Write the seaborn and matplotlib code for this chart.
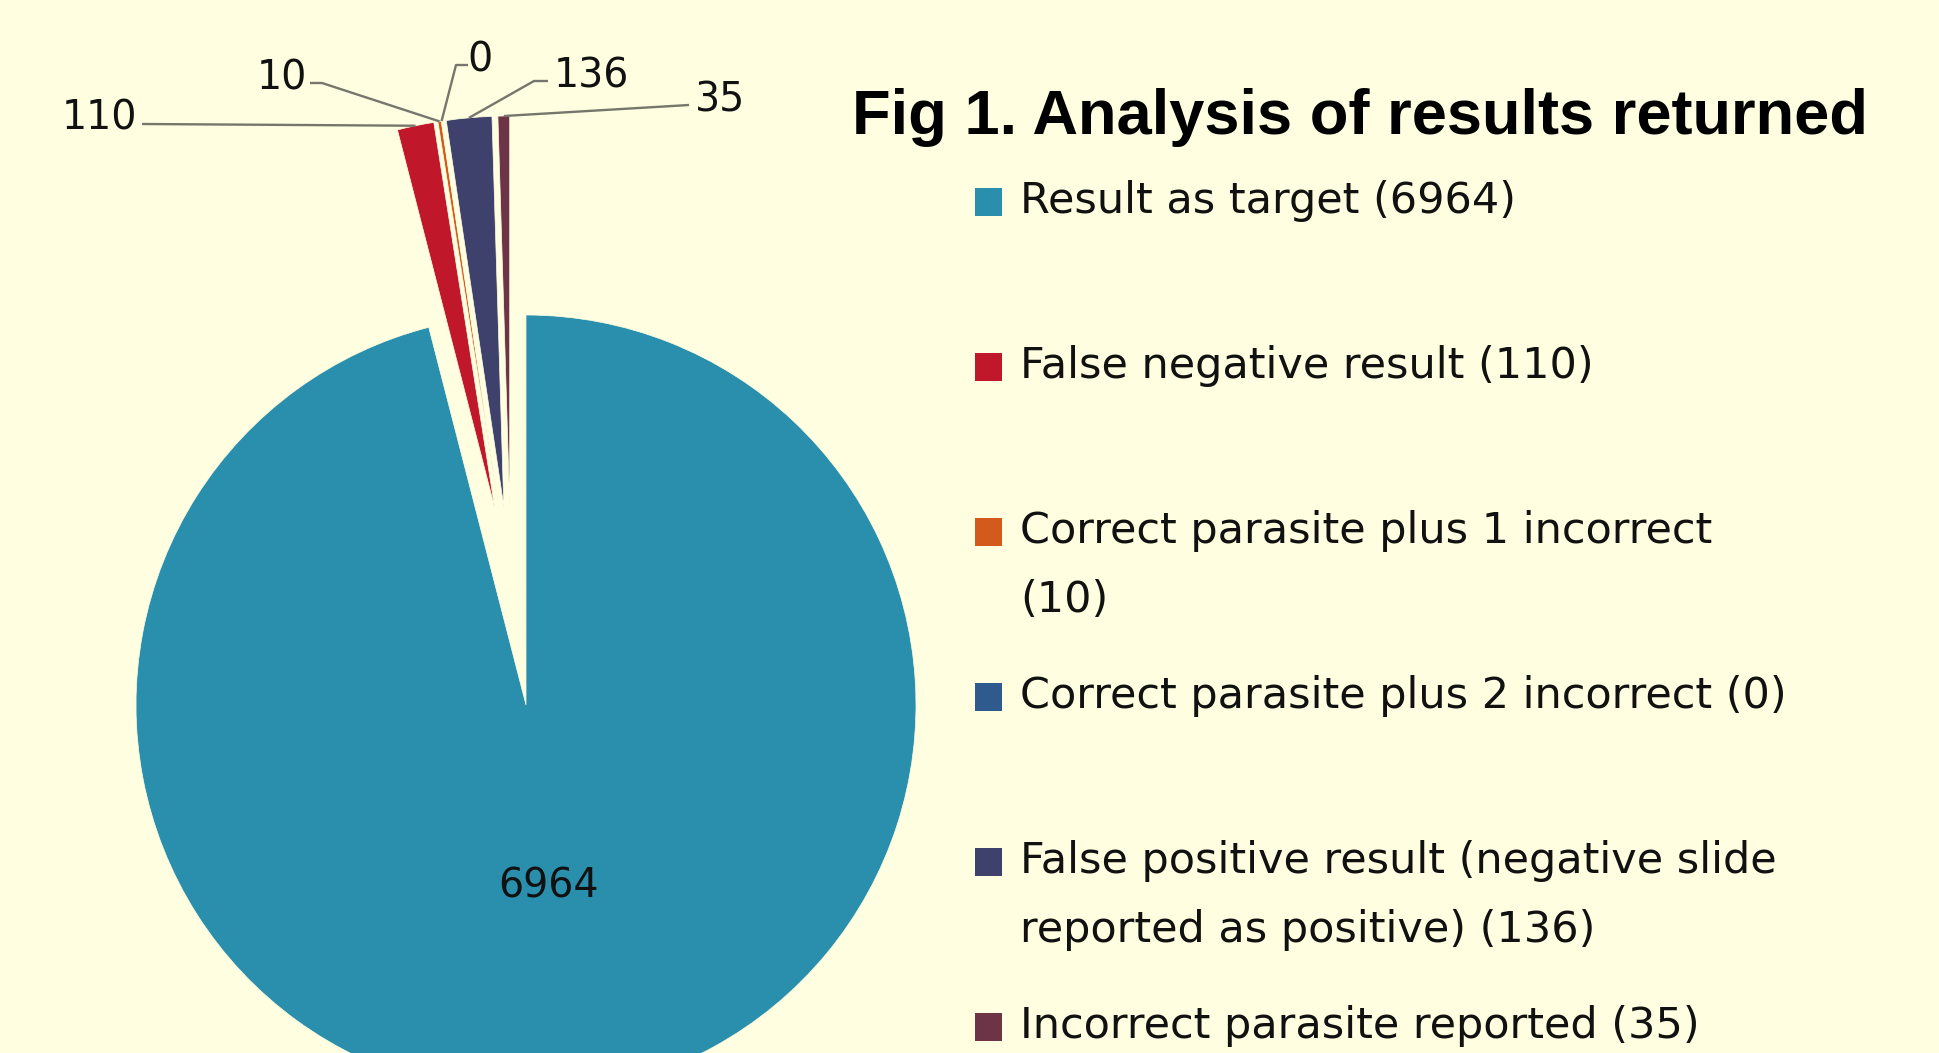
import textwrap
import numpy as np
import matplotlib
matplotlib.use("Agg")
import matplotlib.pyplot as plt
from matplotlib.patches import Rectangle
import seaborn as sns

# ---- data ----
categories = [
    "Result as target",
    "False negative result",
    "Correct parasite plus 1 incorrect",
    "Correct parasite plus 2 incorrect",
    "False positive result (negative slide reported as positive)",
    "Incorrect parasite reported",
]
values = [6964, 110, 10, 0, 136, 35]
colors = ["#2A8FAD", "#C0182A", "#D35A1C", "#2E5A8E", "#3E416B", "#6D3346"]
title = "Fig 1. Analysis of results returned"

BG = "#FFFEE0"
W, H = 1940, 1053

sns.set_style("white")
plt.rcParams["font.family"] = ["DejaVu Sans"]
palette = sns.color_palette(colors)

fig = plt.figure(figsize=(W / 100, H / 100), dpi=100, facecolor=BG)
ax = fig.add_axes([0, 0, 1, 1])
ax.set_facecolor(BG)

def Y(y):  # pixel from top -> data (y up)
    return H - y

cx, cy, R = 526, Y(705), 390
pull_group = 120  # common pull-out of the small slices (pixels)
pull_own = 80     # extra pull of each slice along its own direction

wedges, _ = ax.pie(values, colors=palette, startangle=90, counterclock=False,
                   center=(cx, cy), radius=R, frame=True,
                   wedgeprops=dict(edgecolor=BG, linewidth=0.5))
ax.set_xlim(0, W)
ax.set_ylim(0, H)
ax.set_aspect("equal")
ax.axis("off")

# pull small slices out
small = wedges[1:]
g1 = min(w.theta1 for w in small)
g2 = max(w.theta2 for w in small)
gm = np.deg2rad(0.5 * (g1 + g2))
for w in small:
    t = np.deg2rad(0.5 * (w.theta1 + w.theta2))
    w.set_center((cx + pull_group * np.cos(gm) + pull_own * np.cos(t),
                  cy + pull_group * np.sin(gm) + pull_own * np.sin(t)))

lab_fs = 28.5
# big slice label
w0 = wedges[0]
tm = np.deg2rad(0.5 * (w0.theta1 + w0.theta2))
ax.text(cx + 0.47 * R * np.cos(tm), cy + 0.47 * R * np.sin(tm), f"{values[0]}",
        ha="center", va="center", fontsize=lab_fs, color="#111111")

# small slice labels with leader lines
label_pos = [None, (99, 129), (282, 89), (480, 71), (591, 87), (720, 111)]
line_start = [None, (142, 124), (310, 83), (468, 65), (548, 81), (689, 105)]
elbow = [None, 0, 12, -12, -14, 0]
for i in range(1, len(values)):
    w = wedges[i]
    t = np.deg2rad(0.5 * (w.theta1 + w.theta2))
    wx, wy = w.center
    ax_, ay_ = wx + w.r * np.cos(t), wy + w.r * np.sin(t)
    sx, sy = line_start[i]
    ex = sx + elbow[i]
    ax.plot([sx, ex, ax_], [Y(sy), Y(sy), ay_], color="#76766c", lw=1.7,
            solid_capstyle="butt", zorder=3)
    lx, ly = label_pos[i]
    ax.text(lx, Y(ly), f"{values[i]}", ha="center", va="baseline",
            fontsize=lab_fs, color="#111111")

# title
ax.text(1360, Y(134), title, ha="center", va="baseline", fontsize=45.5,
        fontweight="bold", family=["Liberation Sans", "DejaVu Sans"], color="black")

# legend
leg_fs = 31
base0 = 213
step = 165
line_h = 69
for k, (cat, val) in enumerate(zip(categories, values)):
    txt = textwrap.fill(f"{cat} ({val})", width=37)
    b = base0 + k * step
    ax.add_patch(Rectangle((975, Y(b + 3)), 27, 28, facecolor=palette[k],
                           edgecolor="none"))
    for j, line in enumerate(txt.split("\n")):
        ax.text(1020, Y(b + j * line_h), line, ha="left", va="baseline",
                fontsize=leg_fs, color="#111111")

fig.savefig("out.png", dpi=100, facecolor=BG)
